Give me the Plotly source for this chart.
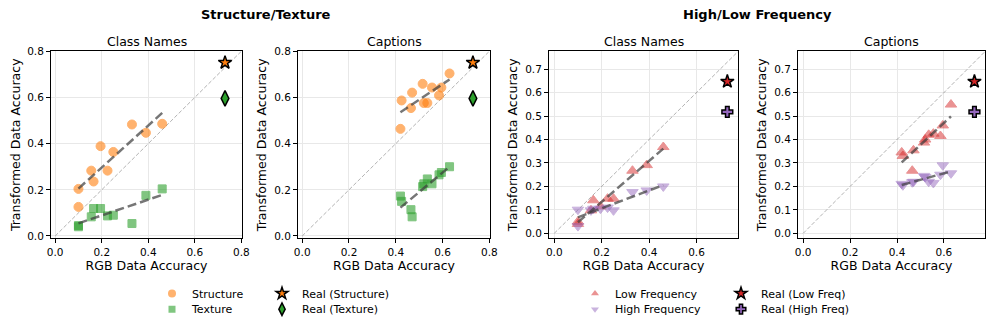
import numpy as np
import plotly.graph_objects as go

# ----------------------------
# Data
# ----------------------------

# RGB accuracy of each model (shared by the transforms)
rgb_class = [0.10, 0.10, 0.155, 0.165, 0.195, 0.225, 0.25, 0.33, 0.39, 0.46]
rgb_caption = [0.42, 0.425, 0.465, 0.47, 0.515, 0.52, 0.535, 0.555, 0.585, 0.595, 0.63]

# Structure / Texture
structure_class = [0.204, 0.126, 0.283, 0.236, 0.389, 0.283, 0.364, 0.483, 0.447, 0.486]
texture_class = [0.040, 0.045, 0.083, 0.119, 0.119, 0.087, 0.090, 0.054, 0.176, 0.204]
structure_caption = [0.464, 0.587, 0.554, 0.621, 0.659, 0.576, 0.576, 0.643, 0.609, 0.643, 0.704]
texture_caption = [0.173, 0.150, 0.114, 0.083, 0.214, 0.226, 0.247, 0.226, 0.265, 0.275, 0.300]

# Low / High frequency
low_class = [0.050, 0.040, 0.098, 0.141, 0.115, 0.148, 0.148, 0.267, 0.291, 0.368]
high_class = [0.101, 0.031, 0.098, 0.105, 0.105, 0.110, 0.098, 0.176, 0.183, 0.200]
low_caption = [0.345, 0.330, 0.267, 0.354, 0.387, 0.400, 0.420, 0.425, 0.415, 0.460, 0.549]
high_caption = [0.211, 0.205, 0.218, 0.220, 0.245, 0.240, 0.220, 0.215, 0.250, 0.290, 0.256]

# Real-image reference points
real_rgb = 0.73
real_structure = 0.751
real_texture = 0.596
real_low = 0.647
real_high = 0.518

# ----------------------------
# Styles / page geometry
# ----------------------------

ORANGE = "rgb(255,127,14)"
GREEN = "rgb(44,160,44)"
RED = "rgb(214,39,40)"
PURPLE = "rgb(148,103,189)"
FONT = "DejaVu Sans"

# the page body has an 8px margin, so the figure is 980x316 drawn at (8, 8)
W, H, OFF = 980, 316, 8


def px(x):
    return (x - OFF) / W


def py(y):
    return 1 - (y - OFF) / H


fig = go.Figure()

x_domains = [[px(51), px(242)], [px(298), px(490)], [px(549), px(738)], [px(798), px(985)]]
y_domain = [py(242), py(52)]

panels = [
    dict(x=rgb_class, ys=[structure_class, texture_class],
         colors=[ORANGE, GREEN], symbols=["circle", "square"], sizes=[9, 8], op=0.6,
         real=[real_structure, real_texture], real_sym=["star", "diamond-tall"],
         real_size=[10, 11], title="Class Names", freq=False),
    dict(x=rgb_caption, ys=[structure_caption, texture_caption],
         colors=[ORANGE, GREEN], symbols=["circle", "square"], sizes=[9, 8], op=0.6,
         real=[real_structure, real_texture], real_sym=["star", "diamond-tall"],
         real_size=[10, 11], title="Captions", freq=False),
    dict(x=rgb_class, ys=[low_class, high_class],
         colors=[RED, PURPLE], symbols=["triangle-up", "triangle-down"], sizes=[10, 10], op=0.5,
         real=[real_low, real_high], real_sym=["star", "cross"],
         real_size=[10, 9], title="Class Names", freq=True),
    dict(x=rgb_caption, ys=[low_caption, high_caption],
         colors=[RED, PURPLE], symbols=["triangle-up", "triangle-down"], sizes=[10, 10], op=0.5,
         real=[real_low, real_high], real_sym=["star", "cross"],
         real_size=[10, 9], title="Captions", freq=True),
]

annotations = []

for i, p in enumerate(panels):
    n = "" if i == 0 else str(i + 1)
    xa, ya = "x" + n, "y" + n

    # diagonal y = x
    fig.add_trace(go.Scatter(
        x=[0, 0.8], y=[0, 0.8], mode="lines",
        line=dict(color="rgba(0,0,0,0.3)", width=1, dash="4px,2px"),
        xaxis=xa, yaxis=ya, showlegend=False, hoverinfo="skip"
    ))

    for ys, col, sym, sz in zip(p["ys"], p["colors"], p["symbols"], p["sizes"]):
        fig.add_trace(go.Scatter(
            x=p["x"], y=ys, mode="markers",
            marker=dict(symbol=sym, size=sz, color=col, opacity=p["op"],
                        line=dict(width=1, color=col)),
            xaxis=xa, yaxis=ya, showlegend=False
        ))

    # regression lines
    for ys in p["ys"]:
        k, b = np.polyfit(p["x"], ys, 1)
        xs = np.array([min(p["x"]), max(p["x"])])
        fig.add_trace(go.Scatter(
            x=xs, y=k * xs + b, mode="lines",
            line=dict(color="rgba(60,60,60,0.7)", width=2.5, dash="9px,4px"),
            xaxis=xa, yaxis=ya, showlegend=False, hoverinfo="skip"
        ))

    # real data points
    for val, col, sym, sz in zip(p["real"], p["colors"], p["real_sym"], p["real_size"]):
        fig.add_trace(go.Scatter(
            x=[real_rgb], y=[val], mode="markers",
            marker=dict(symbol=sym, size=sz, color=col, line=dict(width=1.5, color="black")),
            xaxis=xa, yaxis=ya, showlegend=False
        ))

    if p["freq"]:
        xr, yr = [-0.022, 0.775], [-0.021, 0.776]
        xt, yt = [0, 0.2, 0.4, 0.6], [round(0.1 * j, 1) for j in range(8)]
    else:
        xr, yr = [-0.018, 0.803], [-0.01, 0.80]
        xt, yt = [0, 0.2, 0.4, 0.6, 0.8], [0, 0.2, 0.4, 0.6, 0.8]

    common = dict(showline=True, mirror=True, linecolor="black", linewidth=1,
                  ticks="outside", ticklen=4, tickwidth=1, tickcolor="black",
                  showgrid=True, gridcolor="#e8e8e8", gridwidth=1, zeroline=False,
                  automargin=False,
                  tickfont=dict(family=FONT, size=10.5, color="black"))

    fig.layout["xaxis" + n] = dict(
        domain=x_domains[i], anchor=ya, range=xr, tickvals=xt,
        ticktext=[f"{v:.1f}" for v in xt],
        title=dict(text="RGB Data Accuracy", font=dict(family=FONT, size=12.5, color="black"), standoff=4),
        **common
    )
    fig.layout["yaxis" + n] = dict(
        domain=y_domain, anchor=xa, range=yr, tickvals=yt,
        ticktext=[f"{v:.1f}" for v in yt],
        title=dict(text="Transformed Data Accuracy", font=dict(family=FONT, size=12.5, color="black"), standoff=4),
        **common
    )

    annotations.append(dict(
        text=p["title"], xref="paper", yref="paper",
        x=sum(x_domains[i]) / 2, y=py(42), xanchor="center", yanchor="middle",
        showarrow=False, font=dict(family=FONT, size=12.5, color="black")
    ))

# group titles
annotations.append(dict(text="<b>Structure/Texture</b>", xref="paper", yref="paper",
                        x=px(266), y=py(15), xanchor="center", yanchor="middle",
                        showarrow=False, font=dict(family=FONT, size=13, color="black")))
annotations.append(dict(text="<b>High/Low Frequency</b>", xref="paper", yref="paper",
                        x=px(757), y=py(15), xanchor="center", yanchor="middle",
                        showarrow=False, font=dict(family=FONT, size=13, color="black")))

# ----------------------------
# Legends (one entry per legend box, placed like the reference)
# ----------------------------

legend_items = [
    ("Structure", "circle", ORANGE, 0.6, 8, 0, None),
    ("Texture", "square", GREEN, 0.6, 7, 1, None),
    ("Real (Structure)", "star", ORANGE, 1.0, 9, 2, "black"),
    ("Real (Texture)", "diamond-tall", GREEN, 1.0, 9, 3, "black"),
    ("Low Frequency", "triangle-up", RED, 0.5, 7, 4, None),
    ("High Frequency", "triangle-down", PURPLE, 0.5, 7, 5, None),
    ("Real (Low Freq)", "star", RED, 1.0, 9, 6, "black"),
    ("Real (High Freq)", "cross", PURPLE, 1.0, 8, 7, "black"),
]
legend_x = [152, 152, 262, 262, 575, 575, 721, 721]
legend_y = [298, 314, 298, 314, 298, 314, 298, 314]

for name, sym, col, op, sz, k, edge in legend_items:
    lname = "legend" if k == 0 else f"legend{k + 1}"
    fig.add_trace(go.Scatter(
        x=[None], y=[None], mode="markers", name=name,
        marker=dict(symbol=sym, size=sz, color=col, opacity=op,
                    line=dict(width=1.5 if edge else 0, color=edge or col)),
        legend=lname, showlegend=True
    ))
    fig.layout[lname] = dict(
        x=px(legend_x[k]), y=py(legend_y[k]), xanchor="left", yanchor="middle",
        bgcolor="rgba(0,0,0,0)", borderwidth=0,
        font=dict(family=FONT, size=11, color="black")
    )

fig.update_layout(
    width=W, height=H,
    margin=dict(l=0, r=0, t=0, b=0),
    paper_bgcolor="white", plot_bgcolor="white",
    font=dict(family=FONT, color="black"),
    annotations=annotations,
)

fig.write_html("out.html")
